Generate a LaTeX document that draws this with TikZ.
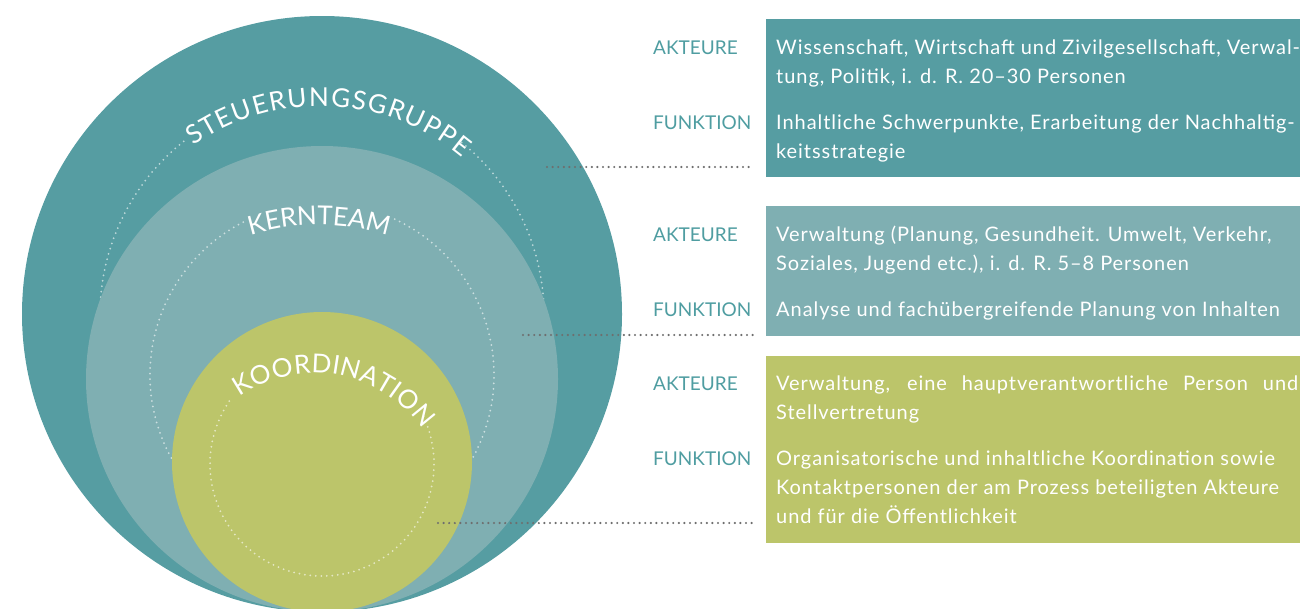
\documentclass[tikz,border=0pt]{standalone}
\usepackage{fontspec}
\setmainfont{Lato}
\newfontfamily\entryfamily{Lato}[LetterSpace=4.7]
\usepackage{tikz}
\usetikzlibrary{positioning}
\usetikzlibrary{decorations.text}

\definecolor{outerteal}{HTML}{569DA2}
\definecolor{midteal}{HTML}{7FAFB2}
\definecolor{innergreen}{HTML}{BCC56A}
\definecolor{tagteal}{HTML}{4F9DA1}
\definecolor{leadgray}{HTML}{6E6E6E}

\newcommand{\ringfont}{\fontsize{26}{26}\selectfont}
\newcommand{\boxfont}{\fontsize{19}{29}\selectfont}
\newcommand{\entryfont}{\entryfamily\fontsize{20}{29}\selectfont}

\tikzset{
    guide/.style={ % dotted white circle inside each ring
        white, opacity=.6, line width=2pt,
        line cap=round, dash pattern=on 0pt off 5.5pt
    },
    leader/.style={ % dotted line from a ring to its panel
        leadgray, line width=2.4pt,
        line cap=round, dash pattern=on 0pt off 5.6pt,
        shorten >=13pt
    },
    panel/.style={ % coloured block of the right column
        anchor=north west, inner sep=0pt, minimum width=534pt
    },
    tag/.style={anchor=base west, inner sep=0pt, text=tagteal, font=\boxfont},
    % base of a multi-line entry is its last line
    entry/.style={anchor=base west, inner sep=0pt, text=white, align=left, font=\entryfont},
    ringlabel/.style={ % curved title over the top of a ring
        decorate,
        decoration={text effects along path, text={#1},
            text effects/.cd, text along path, fit text to path,
            characters={text=white, font=\ringfont}}
    }
}

\begin{document}
\begin{tikzpicture}[x=1pt, y=-1pt]
    \useasboundingbox (0,0) rectangle (1300,608);
    \clip (0,0) rectangle (1300,608);

    % rings, back to front
    \fill[outerteal] (322,314) ellipse [x radius=300, y radius=298];
    \draw[guide] (322,315) ++(-51:222) arc [start angle=-51, end angle=232.6, radius=222];
    \path[ringlabel=STEUERUNGSGRUPPE] (320,327) ++(-125:221) arc [start angle=-125, end angle=-50, radius=221];

    \fill[midteal] (322,379) ellipse [x radius=236, y radius=233];
    \draw[guide] (322,375) ++(-65:172) arc [start angle=-65, end angle=244, radius=172];
    \path[ringlabel=KERNTEAM] (319,460) ++(-107:235) arc [start angle=-107, end angle=-73, radius=235];

    \fill[innergreen] (322,462) circle [radius=150];
    \draw[guide] (322,464) ++(-25:112) arc [start angle=-25, end angle=215, radius=112];
    \path[ringlabel=KOORDINATION] (315,504) ++(-125:131) arc [start angle=-125, end angle=-35, radius=131];

    % panels
    \node[panel, fill=outerteal, minimum height=158pt] (sg-box) at (766,19) {};
    \node[panel, fill=midteal, minimum height=130pt] (kt-box) at (766,206) {};
    \node[panel, fill=innergreen, minimum height=187pt] (ko-box) at (766,356) {};

    % Steuerungsgruppe
    \node[tag] (sg-akt) at (653,54) {AKTEURE};
    \node[entry] (sg-akt-txt) at (776,83) {Wissenschaft, Wirtschaft und Zivilgesellschaft, Verwal-\\tung, Politik, i. d. R. 20–30 Personen};
    \node[tag] (sg-fkt) at (653,129) {FUNKTION};
    \node[entry] (sg-fkt-txt) at (776,158) {Inhaltliche Schwerpunkte, Erarbeitung der Nachhaltig-\\keitsstrategie};

    % Kernteam
    \node[tag] (kt-akt) at (653,241) {AKTEURE};
    \node[entry] (kt-akt-txt) at (776,270) {Verwaltung (Planung, Gesundheit. Umwelt, Verkehr,\\Soziales, Jugend etc.), i. d. R. 5–8 Personen};
    \node[tag] (kt-fkt) at (653,316) {FUNKTION};
    \node[entry] (kt-fkt-txt) at (776,316) {Analyse und fachübergreifende Planung von Inhalten};

    % Koordination
    \node[tag] (ko-akt) at (653,390) {AKTEURE};
    \node[entry] (ko-akt-txt) at (776,419) {\makebox[522pt][s]{Verwaltung, eine hauptverantwortliche Person und}\\Stellvertretung};
    \node[tag] (ko-fkt) at (653,465) {FUNKTION};
    \node[entry] (ko-fkt-txt) at (776,523) {Organisatorische und inhaltliche Koordination sowie\\Kontaktpersonen der am Prozess beteiligten Akteure\\und für die Öffentlichkeit};

    % leaders
    \coordinate (sg-end) at (547,167);
    \coordinate (kt-end) at (523,335);
    \coordinate (ko-end) at (438,523);
    \draw[leader] (sg-end) -- (sg-end -| sg-box.west);
    \draw[leader] (kt-end) -- (kt-end -| kt-box.west);
    \draw[leader] (ko-end) -- (ko-end -| ko-box.west);
\end{tikzpicture}
\end{document}
